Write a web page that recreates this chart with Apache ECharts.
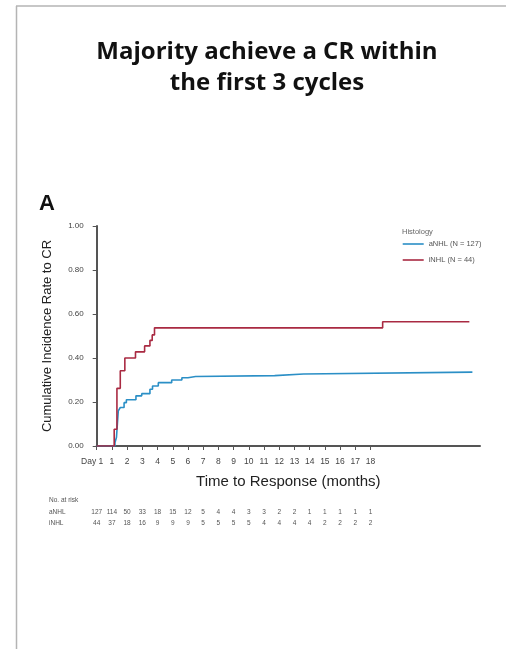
<!DOCTYPE html>
<html>
<head>
<meta charset="utf-8">
<script src="https://cdn.jsdelivr.net/npm/echarts@6/dist/echarts.min.js"></script>
<style>
html,body{margin:0;padding:0;background:#fff;}
#chart{width:506px;height:649px;}
</style>
</head>
<body>
<div id="chart"></div>
<script>
// ---- data ----
var tickLabels = ['Day 1','1','2','3','4','5','6','7','8','9','10','11','12','13','14','15','16','17','18'];
var tickMonths = [0,1,2,3,4,5,6,7,8,9,10,11,12,13,14,15,16,17,18];
var riskANHL = [127,114,50,33,18,15,12,5,4,4,3,3,2,2,1,1,1,1,1];
var riskINHL = [44,37,18,16,9,9,9,5,5,5,5,4,4,4,4,2,2,2,2];
var aNHLTime = [0,1.2,1.3,1.42,1.55,1.8,1.95,2.58,2.96,3.5,3.67,4.05,4.93,5.6,6.0,6.5,11.7,13.6,24.7];
var aNHLRate = [0,0.015,0.04,0.16,0.175,0.197,0.21,0.228,0.238,0.258,0.273,0.288,0.30,0.31,0.316,0.32,0.327,0.336,0.336];
var iNHLTime = [0,1.15,1.33,1.55,1.85,2.55,3.15,3.5,3.65,3.8,18.8,24.5];
var iNHLRate = [0,0.076,0.262,0.342,0.40,0.428,0.455,0.48,0.505,0.537,0.565,0.565];
var seriesNames = ['aNHL (N = 127)','iNHL (N = 44)'];

var chart = echarts.init(document.getElementById('chart'), null, {renderer:'canvas'});
function pairs(t, v){ return t.map(function(x,i){ return [x, v[i]]; }); }
var xMax = 25.2;
function riskAxis(arr, offset){
  return {
    type:'value', min:0, max:xMax, position:'bottom', offset:offset,
    axisLine:{show:false}, axisTick:{show:false}, splitLine:{show:false},
    axisLabel:{customValues:tickMonths, margin:0, fontSize:6.5, color:'#555', fontFamily:'Liberation Sans',
      formatter:function(v){ var i = tickMonths.indexOf(Math.round(v)); return i>=0 ? String(arr[i]) : ''; }}
  };
}
var option = {
  animation:false,
  backgroundColor:'#fff',
  title:{
    text:'Majority achieve a CR within\nthe first 3 cycles',
    left:267, top:37, textAlign:'center', padding:0,
    textStyle:{fontFamily:'Open Sans', fontWeight:'bold', fontSize:24, lineHeight:31, color:'#111'}
  },
  legend:{
    data:seriesNames, orient:'vertical', left:402.7, top:240, padding:0,
    icon:'rect', itemWidth:21, itemHeight:1.6, itemGap:8,
    textStyle:{fontSize:7.5, color:'#555', fontFamily:'Liberation Sans'}
  },
  grid:{left:96.7, right:26, top:226, bottom:203, containLabel:false},
  xAxis:[{
    type:'value', min:0, max:xMax,
    name:'Time to Response (months)', nameLocation:'middle', nameGap:28,
    nameTextStyle:{fontSize:15, color:'#222', fontFamily:'Liberation Sans'},
    axisLine:{lineStyle:{color:'#555', width:2}},
    axisTick:{customValues:tickMonths, length:4, lineStyle:{color:'#555', width:1}},
    splitLine:{show:false},
    axisLabel:{customValues:tickMonths, margin:11, fontSize:8.5, color:'#444', fontFamily:'Liberation Sans',
      rich:{d:{fontSize:8.5, color:'#444', fontFamily:'Liberation Sans', padding:[0,9,0,0]}},
      formatter:function(v){ var i = tickMonths.indexOf(Math.round(v)); if(i<0) return ''; return i===0 ? '{d|'+tickLabels[i]+'}' : tickLabels[i]; }}
  }, riskAxis(riskANHL, 63), riskAxis(riskINHL, 74)],
  yAxis:{
    type:'value', min:0, max:1, interval:0.2,
    name:'Cumulative Incidence Rate to CR', nameLocation:'middle', nameGap:43,
    nameTextStyle:{fontSize:13, color:'#222', fontFamily:'Liberation Sans'},
    axisLine:{show:true, lineStyle:{color:'#555', width:2}},
    axisTick:{show:true, length:4, lineStyle:{color:'#555', width:1}},
    splitLine:{show:false},
    axisLabel:{margin:13, fontSize:8, color:'#444', fontFamily:'Liberation Sans',
      formatter:function(v){ return v.toFixed(2); }}
  },
  graphic:[
    {type:'line', shape:{x1:16, y1:6, x2:506, y2:6}, style:{stroke:'#b4b4b4', lineWidth:1.5}},
    {type:'line', shape:{x1:16.5, y1:6, x2:16.5, y2:649}, style:{stroke:'#b4b4b4', lineWidth:1.5}},
    {type:'text', left:39, top:193, style:{text:'A', font:'bold 22px "Liberation Sans"', fill:'#111'}},
    {type:'text', left:402, top:228, style:{text:'Histology', font:'7.5px "Liberation Sans"', fill:'#666'}},
    {type:'text', left:49, top:497, style:{text:'No. at risk', font:'6.5px "Liberation Sans"', fill:'#555'}},
    {type:'text', left:49, top:509, style:{text:'aNHL', font:'6.5px "Liberation Sans"', fill:'#555'}},
    {type:'text', left:49, top:520, style:{text:'iNHL', font:'6.5px "Liberation Sans"', fill:'#555'}}
  ],
  series:[
    {name:seriesNames[0], type:'line', step:'end', showSymbol:false, data:pairs(aNHLTime, aNHLRate),
      lineStyle:{color:'#2b8fc6', width:1.6}, itemStyle:{color:'#2b8fc6'}},
    {name:seriesNames[1], type:'line', step:'end', showSymbol:false, data:pairs(iNHLTime, iNHLRate),
      lineStyle:{color:'#a92a42', width:1.6}, itemStyle:{color:'#a92a42'}}
  ]
};
chart.setOption(option);
</script>
</body>
</html>
